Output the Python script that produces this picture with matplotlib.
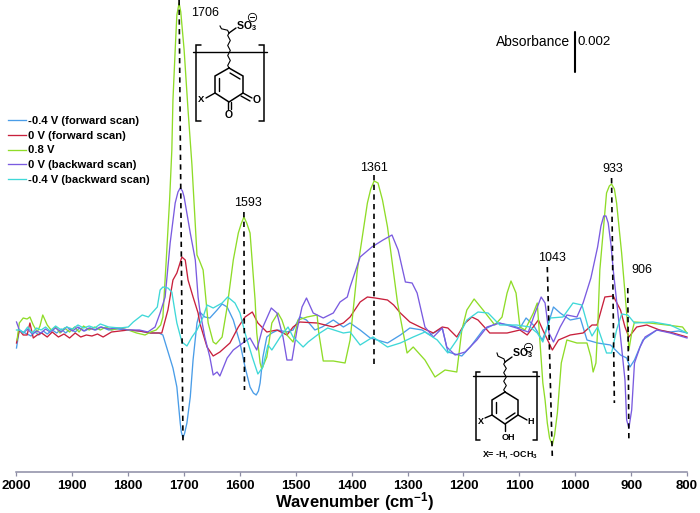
import numpy as np
import matplotlib
matplotlib.use("Agg")
import matplotlib.pyplot as plt

plt.rcParams.update(
    {
        "font.family": ["Liberation Sans", "DejaVu Sans"],
        "mathtext.fontset": "custom",
        "mathtext.rm": "Liberation Sans",
        "mathtext.bf": "Liberation Sans:bold",
    }
)

# absorbance is kept in units of 5e-5 (the 0.002 scale bar is 40 of these)
wn_blue = [2000, 1995, 1988, 1981, 1974, 1967, 1960, 1952, 1945, 1936, 1928, 1920, 1912, 1904, 1895, 1887, 1878, 1868,
           1858, 1848, 1835, 1820, 1800, 1780, 1760, 1745, 1738, 1720, 1713, 1707, 1705, 1702, 1699, 1695, 1689, 1684,
           1677, 1672, 1663, 1654, 1641, 1632, 1623, 1612, 1600, 1591, 1582, 1576, 1571, 1567, 1564, 1559, 1552, 1543,
           1532, 1516, 1505, 1493, 1481, 1466, 1453, 1433, 1415, 1403, 1385, 1367, 1336, 1313, 1296, 1274, 1260, 1238,
           1228, 1203, 1188, 1165, 1140, 1117, 1099, 1088, 1075, 1059, 1050, 1039, 1027, 1009, 991, 979, 960, 937, 919,
           908, 902, 894, 879, 854, 830, 815, 800]
abs_blue = [-18, 0, -2, -4, -6, -2, -5, -1, -4, 0, -3, 1, -3, 1, -2, 2, -1, 2, 0, 3, 0, 1, 0, -1, -3, -3, -5, -38, -57,
            -93, -102, -108, -103, -93, -67, -30, 7, 18, 13, 12, 20, 26, 23, 10, -13, -37, -57, -63, -65, -61, -53, -27,
            -7, -3, 0, -2, 0, 13, 10, 0, 3, 10, 3, 7, 0, -8, -13, -5, 2, 0, -5, 2, -22, -26, -17, 0, 7, 5, 2, 12, 5,
            -10, 3, 23, 17, 10, 12, -10, -13, -15, -25, -28, -37, -30, -10, 0, -2, -1, -3]

wn_red = [2000, 1995, 1988, 1981, 1976, 1970, 1963, 1955, 1945, 1936, 1925, 1915, 1905, 1895, 1885, 1875, 1865, 1855,
          1845, 1830, 1815, 1800, 1780, 1760, 1740, 1729, 1720, 1713, 1704, 1698, 1693, 1684, 1675, 1672, 1659, 1648,
          1636, 1618, 1603, 1591, 1578, 1568, 1552, 1534, 1516, 1505, 1493, 1462, 1433, 1415, 1403, 1385, 1372, 1358,
          1336, 1325, 1313, 1296, 1274, 1254, 1238, 1228, 1212, 1197, 1185, 1174, 1153, 1122, 1099, 1086, 1066, 1058,
          1041, 1030, 1009, 986, 970, 961, 947, 932, 919, 911, 904, 890, 872, 849, 825, 800]
abs_red = [-13, 0, -5, -5, 7, -8, -5, -3, -7, -2, -7, -4, -8, -3, -7, -5, -6, -4, -7, -2, -1, 0, -1, -3, -3, 20, 50, 57,
           73, 70, 50, 33, 17, 7, -17, -26, -22, -13, 3, 13, 18, 7, -2, 0, -5, 3, 8, 7, 3, 7, 13, 28, 33, 32, 30, 25,
           17, 8, 2, -3, 3, 2, -7, 7, 13, 10, -3, -3, 0, -5, 10, 0, -20, -10, -5, -3, 5, 5, 33, 34, 20, 3, -7, 3, 5, 0,
           -3, -7]

wn_green = [1999, 1995, 1988, 1981, 1976, 1970, 1963, 1958, 1953, 1945, 1938, 1930, 1922, 1914, 1905, 1896, 1888, 1880,
            1870, 1860, 1850, 1840, 1830, 1815, 1800, 1785, 1770, 1760, 1750, 1742, 1738, 1732, 1726, 1722, 1720, 1716,
            1713, 1709, 1706, 1700, 1693, 1686, 1677, 1673, 1666, 1661, 1657, 1648, 1643, 1632, 1623, 1612, 1603, 1598,
            1593, 1588, 1582, 1573, 1570, 1564, 1561, 1552, 1543, 1532, 1525, 1516, 1505, 1496, 1480, 1462, 1459, 1451,
            1433, 1412, 1403, 1390, 1372, 1366, 1360, 1353, 1345, 1336, 1318, 1301, 1290, 1269, 1251, 1233, 1212, 1203,
            1194, 1181, 1165, 1144, 1131, 1122, 1115, 1106, 1099, 1090, 1075, 1068, 1058, 1054, 1050, 1046, 1041, 1037,
            1032, 1025, 1015, 997, 979, 972, 968, 963, 960, 956, 944, 939, 935, 930, 926, 917, 908, 904, 899, 894, 867,
            836, 808, 800]
abs_green = [-10, 7, 12, 11, 13, 5, -2, 4, 15, 5, 0, 3, -3, 2, -2, 3, -2, 4, 0, 3, 0, 3, 0, 2, 0, -3, -5, -2, 0, 5, 13,
             70, 130, 180, 230, 280, 315, 327, 318, 280, 220, 165, 75, 70, 60, 30, 7, -12, -14, -7, 23, 70, 97, 106, 113,
             107, 97, 30, -3, -33, -39, -27, 7, 17, 10, -5, -12, 10, 13, 15, -3, -31, -31, -33, -10, 60, 127, 141, 149,
             147, 130, 103, 27, -23, -17, -30, -47, -40, -42, 0, 20, 31, 20, 5, 13, 37, 49, 37, 3, 0, 17, 27, -53, -70,
             -93, -108, -115, -105, -83, -33, -10, -13, -13, -27, -42, -33, 0, 60, 137, 144, 146, 141, 127, 77, 17, -20,
             -3, 8, 7, 5, 3, -3]

wn_purple = [2000, 1995, 1988, 1980, 1972, 1964, 1956, 1948, 1940, 1930, 1920, 1910, 1900, 1890, 1880, 1870, 1860, 1850,
             1835, 1820, 1800, 1780, 1765, 1752, 1743, 1734, 1725, 1716, 1711, 1707, 1703, 1700, 1689, 1680, 1675, 1672,
             1663, 1654, 1648, 1641, 1636, 1623, 1612, 1595, 1582, 1570, 1559, 1544, 1534, 1523, 1516, 1507, 1498, 1489,
             1481, 1469, 1451, 1433, 1421, 1408, 1403, 1385, 1364, 1344, 1328, 1317, 1304, 1292, 1283, 1269, 1254, 1238,
             1230, 1215, 1197, 1176, 1158, 1135, 1105, 1084, 1072, 1061, 1054, 1047, 1039, 1027, 1015, 997, 986, 972,
             960, 954, 949, 945, 941, 936, 932, 919, 911, 908, 904, 899, 894, 884, 875, 854, 830, 800]
abs_purple = [8, 0, -3, 1, -4, -1, -3, 1, -2, 2, -2, 3, -1, 3, -1, 2, 0, 3, 1, 2, 0, 0, -2, 3, 17, 33, 87, 127, 138, 142,
              139, 133, 97, 70, 33, 20, -7, -27, -45, -42, -46, -28, -20, -13, -8, -20, 3, 22, 17, -7, -30, -30, 0, 23,
              32, 17, 12, 17, 28, 33, 43, 73, 83, 90, 95, 80, 48, 47, 37, 3, -7, 2, -17, -25, -22, -10, 3, 7, 2, -2, 17,
              33, 27, -3, -12, 3, 15, 13, 27, 52, 83, 104, 114, 114, 107, 85, 60, -7, -50, -90, -98, -80, -33, -17, -7,
              0, -3, -8]

wn_cyan = [2000, 1994, 1988, 1980, 1972, 1964, 1956, 1948, 1940, 1930, 1920, 1910, 1900, 1890, 1880, 1870, 1860, 1850,
           1835, 1815, 1800, 1791, 1775, 1764, 1748, 1743, 1738, 1729, 1722, 1716, 1713, 1704, 1695, 1686, 1677, 1666,
           1659, 1648, 1632, 1622, 1609, 1600, 1591, 1578, 1568, 1559, 1550, 1543, 1528, 1514, 1505, 1487, 1478, 1457,
           1443, 1415, 1403, 1385, 1362, 1336, 1313, 1290, 1269, 1247, 1228, 1212, 1194, 1174, 1156, 1135, 1105, 1081,
           1068, 1058, 1045, 1022, 1004, 988, 977, 970, 960, 944, 935, 926, 917, 906, 894, 861, 830, 800]
abs_cyan = [0, 0, -3, 3, -3, 2, 0, 3, -1, 4, 0, 3, 1, 5, 2, 4, 2, 6, 3, 2, 3, 8, 15, 13, 23, 40, 43, 42, 38, 17, 7, -12,
            -16, -7, 0, 13, 25, 22, 27, 33, 27, 17, -3, -27, -44, -37, -15, -20, -7, 3, -7, -17, -12, -3, 2, -3, -2, -15,
            -7, -17, -13, -7, -2, -10, -23, -10, 10, 18, 17, 5, 5, 3, -3, -12, 12, 13, 27, 25, 3, -6, 3, -23, -23, 0, 16,
            15, 7, 8, 5, -3]

series_labels = ["-0.4 V (forward scan)", "0 V (forward scan)", "0.8 V", "0 V (backward scan)", "-0.4 V (backward scan)"]
series_colors = ["#4a9de8", "#c8203c", "#8fdc28", "#7a5be0", "#3fd8d8"]

peak_labels = ["1706", "1593", "1361", "1043", "933", "906"]
peak_top_wn = [1709, 1593, 1360, 1050, 935, 906]
peak_bottom_wn = [1702, 1592, 1360, 1041, 930, 904]
peak_top_abs = [330, 118, 155, 63, 152, 42]
peak_bottom_abs = [-114, -60, -35, -128, -73, -112]
peak_label_wn = [1663, 1586, 1360, 1041, 932, 880]
peak_label_abs = [317, 127, 162, 72, 161, 60]

fig = plt.figure(figsize=(7.0, 5.13), dpi=100)
ax = fig.add_axes([16.5 / 700, 1 - 472 / 513, 670.5 / 700, 472 / 513])
ax.set_xlim(2000, 800)
ax.set_ylim(-142, 330)
ax.patch.set_alpha(0)

all_wn = [wn_blue, wn_red, wn_green, wn_purple, wn_cyan]
all_abs = [abs_blue, abs_red, abs_green, abs_purple, abs_cyan]
for w, a, c, l in zip(all_wn, all_abs, series_colors, series_labels):
    ax.plot(w, a, color=c, lw=0.95, label=l, clip_on=False, solid_joinstyle="round")

for i in range(len(peak_labels)):
    ax.plot([peak_top_wn[i], peak_bottom_wn[i]], [peak_top_abs[i], peak_bottom_abs[i]], color="black",
            lw=1.2, dashes=(3.2, 2.6), clip_on=False)
    ax.text(peak_label_wn[i], peak_label_abs[i], peak_labels[i], fontsize=9, ha="center", va="center")

for s in ["top", "left", "right"]:
    ax.spines[s].set_visible(False)
ax.spines["bottom"].set_color("#8c8ca4")
ax.spines["bottom"].set_linewidth(1.1)
ax.set_yticks([])
ax.set_xticks(np.arange(800, 2001, 100))
ax.tick_params(axis="x", length=3, width=0.9, color="#8c8ca4", labelsize=9.5, pad=3)
for t in ax.get_xticklabels():
    t.set_fontweight("bold")
fig.text(355 / 700, 1 - 507 / 513, r"Wavenumber (cm$\mathbf{^{-1}}$)", fontsize=12, fontweight="bold",
         ha="center", va="baseline")

ax.legend(loc="upper left", bbox_to_anchor=(8 / 700, 1 - 116 / 513), bbox_transform=fig.transFigure, frameon=False,
          prop={"size": 8.1, "weight": "bold"}, handlelength=1.6, handletextpad=0.2, labelspacing=0.42,
          borderpad=0, borderaxespad=0)

# overlay in pixel coordinates for the scale bar and structure sketches
ov = fig.add_axes([0, 0, 1, 1])
ov.set_xlim(0, 700)
ov.set_ylim(513, 0)
ov.axis("off")


def seg(pts, lw=1.0):
    xs, ys = zip(*pts)
    ov.plot(xs, ys, color="black", lw=lw, solid_capstyle="round", solid_joinstyle="miter")


def wavy(x0, y0, x1, y1, n, amp=1.3):
    t = np.linspace(0, 1, 2 * n + 1)
    dx, dy = x1 - x0, y1 - y0
    size = np.hypot(dx, dy)
    off = amp * np.where(np.arange(2 * n + 1) % 2 == 0, 0, np.where(np.arange(2 * n + 1) % 4 == 1, 1, -1))
    ov.plot(x0 + dx * t - dy / size * off, y0 + dy * t + dx / size * off, color="black", lw=0.8)


def bracket(x, y0, y1, d):
    seg([(x + d, y0), (x, y0), (x, y1), (x + d, y1)], lw=1.1)


def so3(x, y, cx, cy):
    ov.text(x, y, r"SO$\mathbf{_3}$", fontsize=7.6, fontweight="bold", ha="left", va="center")
    ov.plot([cx], [cy], marker="o", ms=6, mfc="none", mec="black", mew=0.6)
    ov.plot([cx - 1.6, cx + 1.6], [cy, cy], color="black", lw=0.7)


# scale bar
seg([(575, 32), (575, 72)], lw=1.5)
ov.text(570, 42, "Absorbance", fontsize=10, ha="right", va="center")
ov.text(578, 42, "0.002", fontsize=9.6, ha="left", va="center")

# quinone structure
seg([(193, 52), (267, 52)])
bracket(196, 45, 121, 5)
bracket(264, 45, 121, -5)
wavy(229, 33, 229, 68, 7)
wavy(220, 26, 229, 33, 2)
seg([(229, 33), (236, 28)])
so3(236, 26, 252, 17)
seg([(229, 68), (243, 76), (243, 93), (229, 102), (215, 93), (215, 76), (229, 68)], lw=1.1)
seg([(219, 78), (219, 91)], lw=1.0)
seg([(230, 73), (240, 79)], lw=1.0)
seg([(215, 93), (206, 98)], lw=1.0)
seg([(243, 93), (252, 98)], lw=1.0)
seg([(241, 96), (250, 101)], lw=1.0)
seg([(227.5, 102), (227.5, 109)], lw=1.0)
seg([(230.5, 102), (230.5, 109)], lw=1.0)
ov.text(201.5, 99, "X", fontsize=6.8, fontweight="bold", ha="center", va="center")
ov.text(257, 100, "O", fontsize=7.5, fontweight="bold", ha="center", va="center")
ov.text(228.5, 114.5, "O", fontsize=7.5, fontweight="bold", ha="center", va="center")

# phenol structure
seg([(473, 376), (539, 376)])
bracket(476, 372, 440, 4)
bracket(537, 372, 440, -4)
wavy(505, 362, 505, 392, 7)
wavy(497, 353, 505, 362, 2)
seg([(505, 362), (512, 357)])
so3(512, 353, 528, 347)
seg([(505, 392), (518, 400), (518, 415), (505, 424), (492, 415), (492, 400), (505, 392)], lw=1.1)
seg([(496, 402), (496, 413)], lw=1.0)
seg([(515, 413), (506, 419)], lw=1.0)
seg([(492, 415), (485, 418)], lw=1.0)
seg([(518, 415), (527, 420)], lw=1.0)
seg([(505, 424), (505, 431)], lw=1.0)
ov.text(481, 421, "X", fontsize=6.5, fontweight="bold", ha="center", va="center")
ov.text(531, 422, "H", fontsize=6.5, fontweight="bold", ha="center", va="center")
ov.text(508.5, 437, "OH", fontsize=6.5, fontweight="bold", ha="center", va="center")
ov.text(482, 454, r"X= -H, -OCH$\mathbf{_3}$", fontsize=6.4, fontweight="bold", ha="left", va="center")

fig.savefig("out.png", dpi=100)
